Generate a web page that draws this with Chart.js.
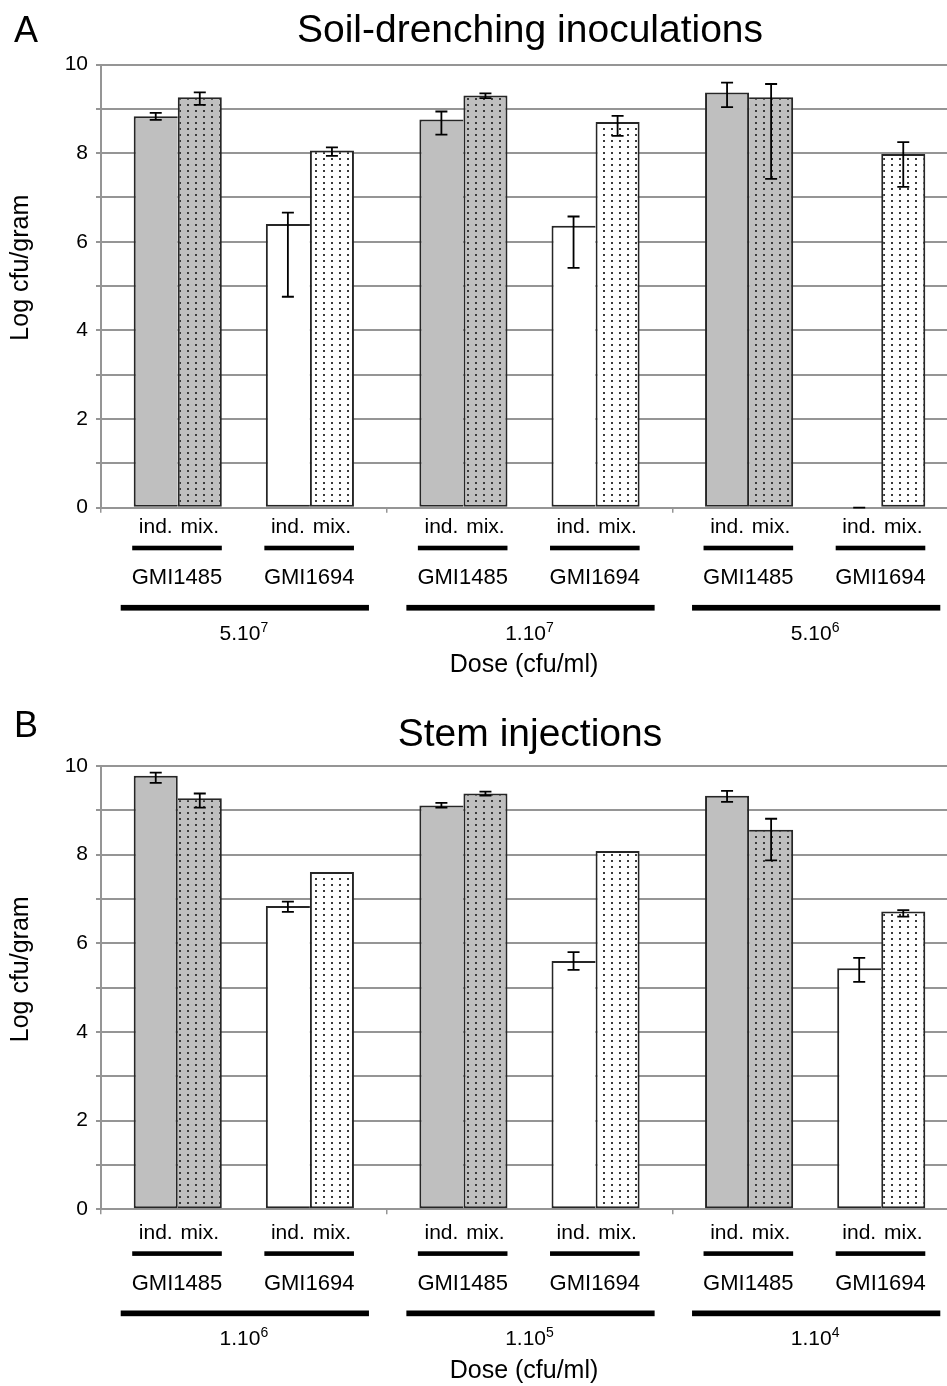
<!DOCTYPE html>
<html><head><meta charset="utf-8">
<script src="https://cdn.jsdelivr.net/npm/chart.js@4.4.1/dist/chart.umd.min.js"></script>
<style>
html,body{margin:0;padding:0;background:#fff;overflow:hidden;}
#wrap{position:relative;width:947px;height:1386px;overflow:hidden;background:#fff;}
canvas{position:absolute;left:0;}
</style></head><body>
<div id="wrap">
<canvas id="cA" width="958" height="702" style="top:0;width:958px;height:702px"></canvas>
<canvas id="cB" width="958" height="684" style="top:702px;width:958px;height:684px"></canvas>
</div>
<script>
// ---------- data ----------
const strains = ['GMI1485', 'GMI1694'];
const treatments = ['ind.', 'mix.'];
const yTickLabels = [0, 2, 4, 6, 8, 10];

// Panel A: soil-drenching inoculations
const soilDoseBase = ['5.10', '1.10', '5.10'];
const soilDoseExp = ['7', '7', '6'];
const soil1485ind = [8.83, 8.76, 9.37];
const soil1485indHi = [8.91, 8.94, 9.59];
const soil1485indLo = [8.75, 8.42, 9.04];
const soil1485mix = [9.26, 9.30, 9.26];
const soil1485mixHi = [9.37, 9.35, 9.56];
const soil1485mixLo = [9.09, 9.24, 7.42];
const soil1694ind = [6.40, 6.36, 0];
const soil1694indHi = [6.66, 6.57, 0];
const soil1694indLo = [4.76, 5.41, 0];
const soil1694mix = [8.06, 8.70, 7.98];
const soil1694mixHi = [8.13, 8.84, 8.25];
const soil1694mixLo = [7.94, 8.39, 7.24];

// Panel B: stem injections
const stemDoseBase = ['1.10', '1.10', '1.10'];
const stemDoseExp = ['6', '5', '4'];
const stem1485ind = [9.78, 9.11, 9.33];
const stem1485indHi = [9.85, 9.17, 9.44];
const stem1485indLo = [9.62, 9.06, 9.19];
const stem1485mix = [9.27, 9.38, 8.56];
const stem1485mixHi = [9.38, 9.42, 8.81];
const stem1485mixLo = [9.06, 9.33, 7.87];
const stem1694ind = [6.84, 5.60, 5.44];
const stem1694indHi = [6.94, 5.80, 5.67];
const stem1694indLo = [6.71, 5.40, 5.13];
const stem1694mix = [7.61, 8.08, 6.72];
const stem1694mixHi = [null, null, 6.75];
const stem1694mixLo = [null, null, 6.60];

// ---------- styling ----------
const FONT = '"Liberation Sans", Arial, Helvetica, sans-serif';
const GRAY = '#bfbfbf';
const GRID = '#959595';
function dotPattern(bg) {
  const c = document.createElement('canvas');
  c.width = 8; c.height = 6;
  const g = c.getContext('2d');
  g.fillStyle = bg; g.fillRect(0, 0, 8, 6);
  g.fillStyle = '#3a3a3a';
  g.fillRect(3, 2, 2, 2);
  return g.createPattern(c, 'repeat');
}

function makeAnnot(cfg) {
  return {
    id: 'annot' + cfg.letter,
    afterDatasetsDraw(chart) {
      const ctx = chart.ctx, ys = chart.scales.y;
      chart.data.datasets.forEach((ds, di) => {
        if (!ds.hi) return;
        const meta = chart.getDatasetMeta(di);
        meta.data.forEach((bar, i) => {
          const hi = ds.hi[i], lo = ds.lo[i];
          if (hi == null || lo == null) return;
          const x = bar.x, yh = ys.getPixelForValue(hi), yl = ys.getPixelForValue(lo);
          ctx.save();
          ctx.strokeStyle = '#000'; ctx.lineWidth = 1.8;
          ctx.beginPath();
          ctx.moveTo(x, yh); ctx.lineTo(x, yl);
          ctx.moveTo(x - 6, yh); ctx.lineTo(x + 6, yh);
          ctx.moveTo(x - 6, yl); ctx.lineTo(x + 6, yl);
          ctx.stroke();
          ctx.restore();
        });
      });
    },
    afterDraw(chart) {
      const ctx = chart.ctx, xs = chart.scales.x, area = chart.chartArea;
      const b0 = area.bottom + cfg.shift;
      ctx.save();
      ctx.fillStyle = '#000';
      // panel letter & title
      ctx.textAlign = 'left'; ctx.textBaseline = 'alphabetic';
      ctx.font = '36px ' + FONT;
      ctx.fillText(cfg.letter, 14, cfg.letterY);
      ctx.textAlign = 'center';
      ctx.font = '39px ' + FONT;
      ctx.fillText(cfg.title, 530, cfg.titleY);
      // y axis title
      ctx.save();
      ctx.translate(21, area.bottom - 240);
      ctx.rotate(-Math.PI / 2);
      ctx.font = '25px ' + FONT;
      ctx.textBaseline = 'middle';
      ctx.fillText('Log cfu/gram', 0, 0);
      ctx.restore();
      // category annotations
      const metas = [0, 1, 3, 4].map(d => chart.getDatasetMeta(d));
      for (let i = 0; i < cfg.doseBase.length; i++) {
        const bars = metas.map(m => m.data[i]);
        ctx.textBaseline = 'middle'; ctx.textAlign = 'center';
        ctx.font = '21px ' + FONT;
        bars.forEach((b, k) => ctx.fillText(treatments[k % 2], b.x, b0 + 20));
        for (let s = 0; s < 2; s++) {
          const a = bars[2 * s], c = bars[2 * s + 1];
          const l = a.x - a.width / 2 - 1.5, r = c.x + c.width / 2;
          ctx.fillRect(l, b0 + 38, r - l, 4.6);
          ctx.font = '22px ' + FONT;
          ctx.fillText(strains[s], (l + r) / 2, b0 + 70.5);
        }
        const L = bars[0].x - bars[0].width / 2 - 13, R = bars[3].x + bars[3].width / 2 + 15;
        ctx.fillRect(L, b0 + 97.2, R - L, 5.7);
        // dose label with superscript
        ctx.textBaseline = 'alphabetic'; ctx.textAlign = 'left';
        ctx.font = '21px ' + FONT;
        const bw = ctx.measureText(cfg.doseBase[i]).width;
        ctx.font = '14px ' + FONT;
        const ew = ctx.measureText(cfg.doseExp[i]).width;
        const cx = xs.getPixelForValue(i);
        const sx = cx - (bw + ew) / 2;
        ctx.font = '21px ' + FONT;
        ctx.fillText(cfg.doseBase[i], sx, b0 + 132);
        ctx.font = '14px ' + FONT;
        ctx.fillText(cfg.doseExp[i], sx + bw, b0 + 124);
      }
      ctx.textAlign = 'center'; ctx.textBaseline = 'alphabetic';
      ctx.font = '25px ' + FONT;
      ctx.fillText('Dose (cfu/ml)', 524, b0 + 164.5);
      ctx.restore();
    }
  };
}

function build(canvasId, cfg, series) {
  const H = document.getElementById(canvasId).height;
  const fills = [GRAY, dotPattern(GRAY), '#fff', '#fff', dotPattern('#fff')];
  // the taller bar of an ind/mix pair owns the shared edge (single seam line)
  const skipFor = k => {
    if (k === 0 || k === 3) {
      const self = series[k].data, mate = series[k + 1].data;
      return c => (mate[c.dataIndex] > self[c.dataIndex] ? 'right' : false);
    }
    if (k === 1 || k === 4) {
      const self = series[k].data, mate = series[k - 1].data;
      return c => (self[c.dataIndex] > mate[c.dataIndex] ? false : 'left');
    }
    return false;
  };
  const datasets = series.map((s, k) => ({
    label: s.label,
    data: s.data,
    hi: s.hi, lo: s.lo,
    backgroundColor: fills[k],
    borderColor: '#262626',
    borderWidth: s.data.every(v => v == null) ? 0 : 2,
    borderSkipped: skipFor(k),
    barPercentage: 1.0,
    categoryPercentage: 0.771
  }));
  return new Chart(document.getElementById(canvasId), {
    type: 'bar',
    data: { labels: cfg.doseBase.map((b, i) => b + '^' + cfg.doseExp[i]), datasets },
    plugins: [makeAnnot(cfg)],
    options: {
      responsive: false,
      animation: false,
      devicePixelRatio: 1,
      layout: { padding: { top: cfg.top, left: 0, right: 0, bottom: 0 } },
      plugins: { legend: { display: false }, tooltip: { enabled: false }, title: { display: false } },
      scales: {
        x: {
          type: 'category',
          ticks: { display: false },
          grid: { drawOnChartArea: false, drawTicks: true, tickLength: 5, color: GRID, lineWidth: 1.5, offset: true },
          border: { display: true, color: GRID, width: 2 },
          afterFit: s => { s.height = H - cfg.bottom; }
        },
        y: {
          min: 0, max: 10,
          ticks: {
            stepSize: 1, color: '#000', padding: 8,
            font: { family: FONT, size: 21 },
            callback: v => yTickLabels.includes(v) ? String(v) : ''
          },
          grid: { color: GRID, lineWidth: 2, tickLength: 5 },
          border: { display: true, color: GRID, width: 2 },
          afterFit: s => { s.width = 101; }
        }
      }
    }
  });
}

build('cA', {
  letter: 'A', title: 'Soil-drenching inoculations', letterY: 42, titleY: 42,
  top: 64.5, bottom: 507.7, shift: 0,
  doseBase: soilDoseBase, doseExp: soilDoseExp
}, [
  { label: 'GMI1485 ind.', data: soil1485ind, hi: soil1485indHi, lo: soil1485indLo },
  { label: 'GMI1485 mix.', data: soil1485mix, hi: soil1485mixHi, lo: soil1485mixLo },
  { label: '', data: [null, null, null] },
  { label: 'GMI1694 ind.', data: soil1694ind, hi: soil1694indHi, lo: soil1694indLo },
  { label: 'GMI1694 mix.', data: soil1694mix, hi: soil1694mixHi, lo: soil1694mixLo }
]);

build('cB', {
  letter: 'B', title: 'Stem injections', letterY: 35, titleY: 44,
  top: 64, bottom: 507.3, shift: 4,
  doseBase: stemDoseBase, doseExp: stemDoseExp
}, [
  { label: 'GMI1485 ind.', data: stem1485ind, hi: stem1485indHi, lo: stem1485indLo },
  { label: 'GMI1485 mix.', data: stem1485mix, hi: stem1485mixHi, lo: stem1485mixLo },
  { label: '', data: [null, null, null] },
  { label: 'GMI1694 ind.', data: stem1694ind, hi: stem1694indHi, lo: stem1694indLo },
  { label: 'GMI1694 mix.', data: stem1694mix, hi: stem1694mixHi, lo: stem1694mixLo }
]);
</script>
</body></html>
